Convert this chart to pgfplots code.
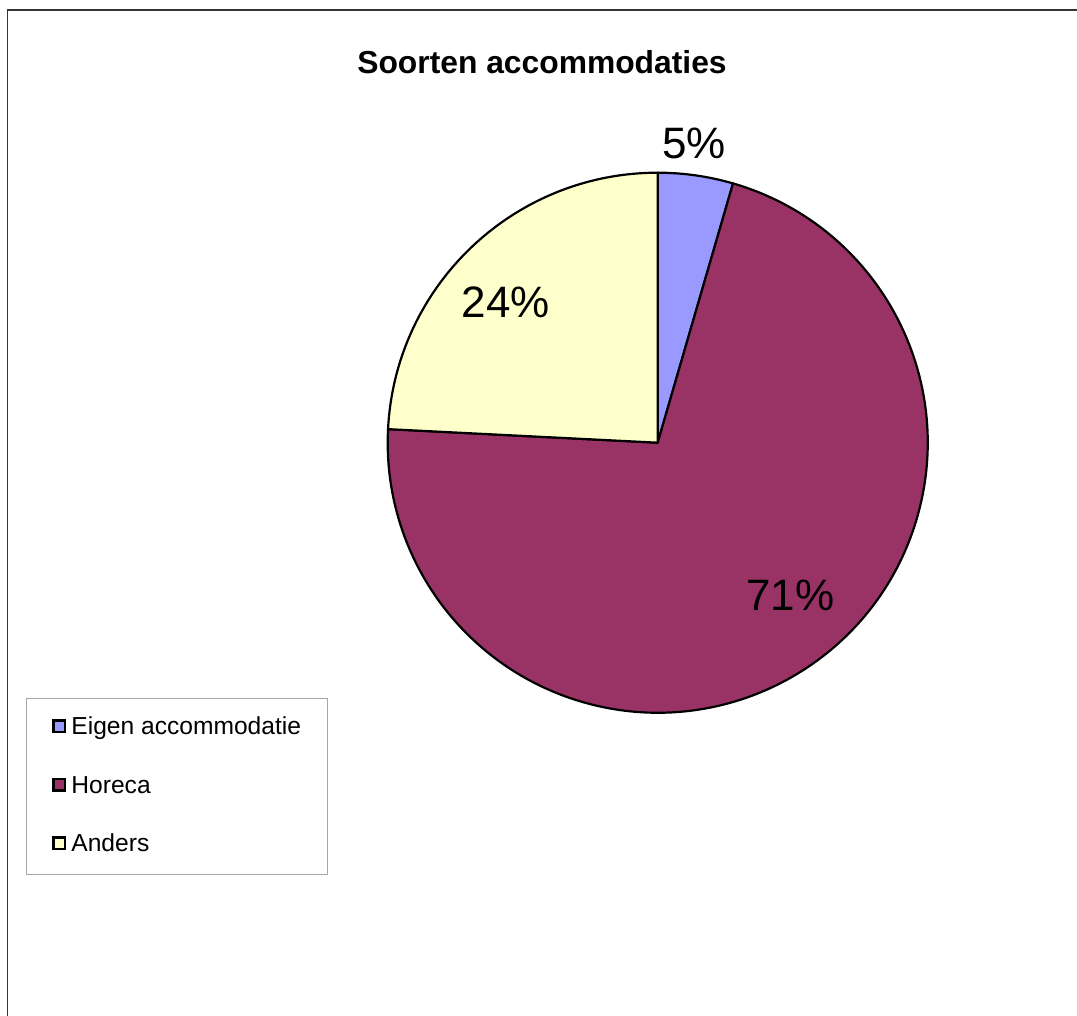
\documentclass[border=0pt]{standalone}
\usepackage{fontspec}
\setmainfont{Liberation Sans}
\usepackage{pgfplots}
\usepackage{pgfplotstable}
\pgfplotsset{compat=1.18}

\definecolor{eigen}{HTML}{9999FF}
\definecolor{horeca}{HTML}{993366}
\definecolor{anders}{HTML}{FFFFCC}
\definecolor{framegray}{HTML}{333333}

% share of each kind of accommodation (percent)
\pgfplotstableread{
name value
Eigen 4.5
Horeca 71.3
Anders 24.2
}\shares

\pgfplotstablegetelem{0}{value}\of\shares \let\va\pgfplotsretval
\pgfplotstablegetelem{1}{value}\of\shares \let\vb\pgfplotsretval
\pgfplotstablegetelem{2}{value}\of\shares \let\vc\pgfplotsretval
\pgfmathsetmacro\aA{90-3.6*\va}
\pgfmathsetmacro\aB{\aA-3.6*\vb}
\pgfmathsetmacro\aC{\aB-3.6*\vc}

\begin{document}
\begin{tikzpicture}
\useasboundingbox (0,0) rectangle (1077bp,1016bp);
\begin{axis}[
    at={(0,0)}, anchor=south west,
    x=1bp, y=1bp,
    xmin=0, xmax=1077, ymin=0, ymax=1016,
    hide axis, clip=false,
    legend cell align=left,
    legend style={
        at={(axis cs:26,318)}, anchor=north west,
        draw=gray!70, line width=1bp,
        inner xsep=26bp, inner ysep=18bp,
        row sep=35.5bp, column sep=5bp,
        font=\fontsize{24.6bp}{28bp}\selectfont,
        nodes={inner sep=0pt, text height=18bp, text depth=5bp},
    },
    legend image code/.code={
        \draw[#1, draw=black, line width=2.4bp] (1bp,-4bp) rectangle (12.5bp,7.5bp);
    },
]
\addlegendimage{fill=eigen}
\addlegendentry{Eigen accommodatie}
\addlegendimage{fill=horeca}
\addlegendentry{Horeca}
\addlegendimage{fill=anders}
\addlegendentry{Anders}

% chart area frame
\draw[line width=1.5bp, framegray] (axis cs:7.5,0) -- (axis cs:7.5,1006) -- (axis cs:1077,1006);

% slices, clockwise from the top
\filldraw[fill=eigen, draw=black, line width=2.2bp, line join=round]
    (axis cs:657.7,573.3) -- ++(90:270bp) arc[start angle=90, end angle=\aA, radius=270bp] -- cycle;
\filldraw[fill=horeca, draw=black, line width=2.2bp, line join=round]
    (axis cs:657.7,573.3) -- ++(\aA:270bp) arc[start angle=\aA, end angle=\aB, radius=270bp] -- cycle;
\filldraw[fill=anders, draw=black, line width=2.2bp, line join=round]
    (axis cs:657.7,573.3) -- ++(\aB:270bp) arc[start angle=\aB, end angle=\aC, radius=270bp] -- cycle;

\node[anchor=base, font=\fontsize{31.8bp}{36bp}\selectfont\bfseries] at (axis cs:542,942.7) {Soorten accommodaties};
\node[anchor=base, font=\fontsize{44bp}{50bp}\selectfont] at (axis cs:694,857) {5\%};
\node[anchor=base, font=\fontsize{44bp}{50bp}\selectfont] at (axis cs:506,698) {24\%};
\node[anchor=base, font=\fontsize{44bp}{50bp}\selectfont] at (axis cs:790.5,405) {71\%};
\end{axis}
\end{tikzpicture}
\end{document}
